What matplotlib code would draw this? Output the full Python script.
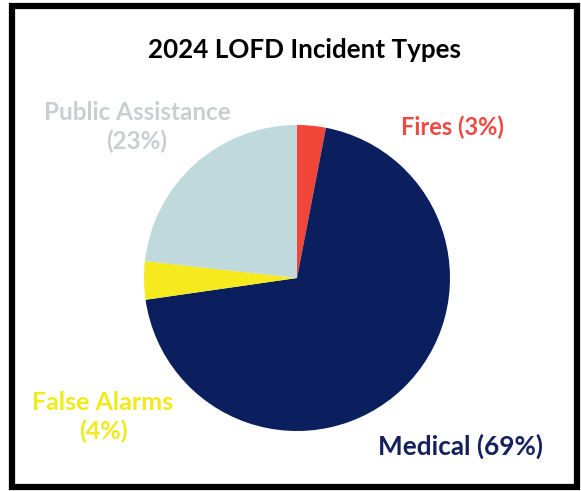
import matplotlib
matplotlib.use("Agg")
import matplotlib.pyplot as plt
from matplotlib.patches import Rectangle

title = "2024 LOFD Incident Types"
categories = ["Fires", "Medical", "False Alarms", "Public Assistance"]
values = [3, 69, 4, 23]
colors = ["#F2453A", "#0B1F5E", "#F6EA1E", "#C0D9DD"]
label_colors = ["#EC4A42", "#14215E", "#F0EA1C", "#C9CFCF"]
label_texts = ["Fires (3%)", "Medical (69%)", "False Alarms\n(4%)", "Public Assistance\n(23%)"]

W, H = 581, 491
fig = plt.figure(figsize=(W / 100, H / 100), dpi=100)
ax = fig.add_axes([0, 0, 1, 1])

# y axis inverted (pixel coords): data angle -90 is visually the top,
# and counterclock=True is visually clockwise
ax.pie(values, colors=colors, startangle=-90, counterclock=True,
       center=(297, 278), radius=153, wedgeprops=dict(linewidth=0))
ax.set_xlim(0, W)
ax.set_ylim(H, 0)
ax.set_aspect("equal")
ax.axis("off")

# frame
ax.add_patch(Rectangle((12, 6), 565, 481, fill=False, edgecolor="black", linewidth=4.5))

ax.text(305, 50, title, ha="center", va="center", fontsize=18.7, fontweight="bold",
        family=["Lato", "DejaVu Sans"], color="black")

pos = [(452, 127), (461, 446), (103, 417), (137, 127)]
sizes = [17, 18.8, 18, 17.5]
for t, c, (x, y), s in zip(label_texts, label_colors, pos, sizes):
    ax.text(x, y, t, ha="center", va="center", fontsize=s, fontweight="bold",
            family=["Lato", "DejaVu Sans"], color=c, linespacing=1.25)

fig.savefig("out.png", dpi=100)
